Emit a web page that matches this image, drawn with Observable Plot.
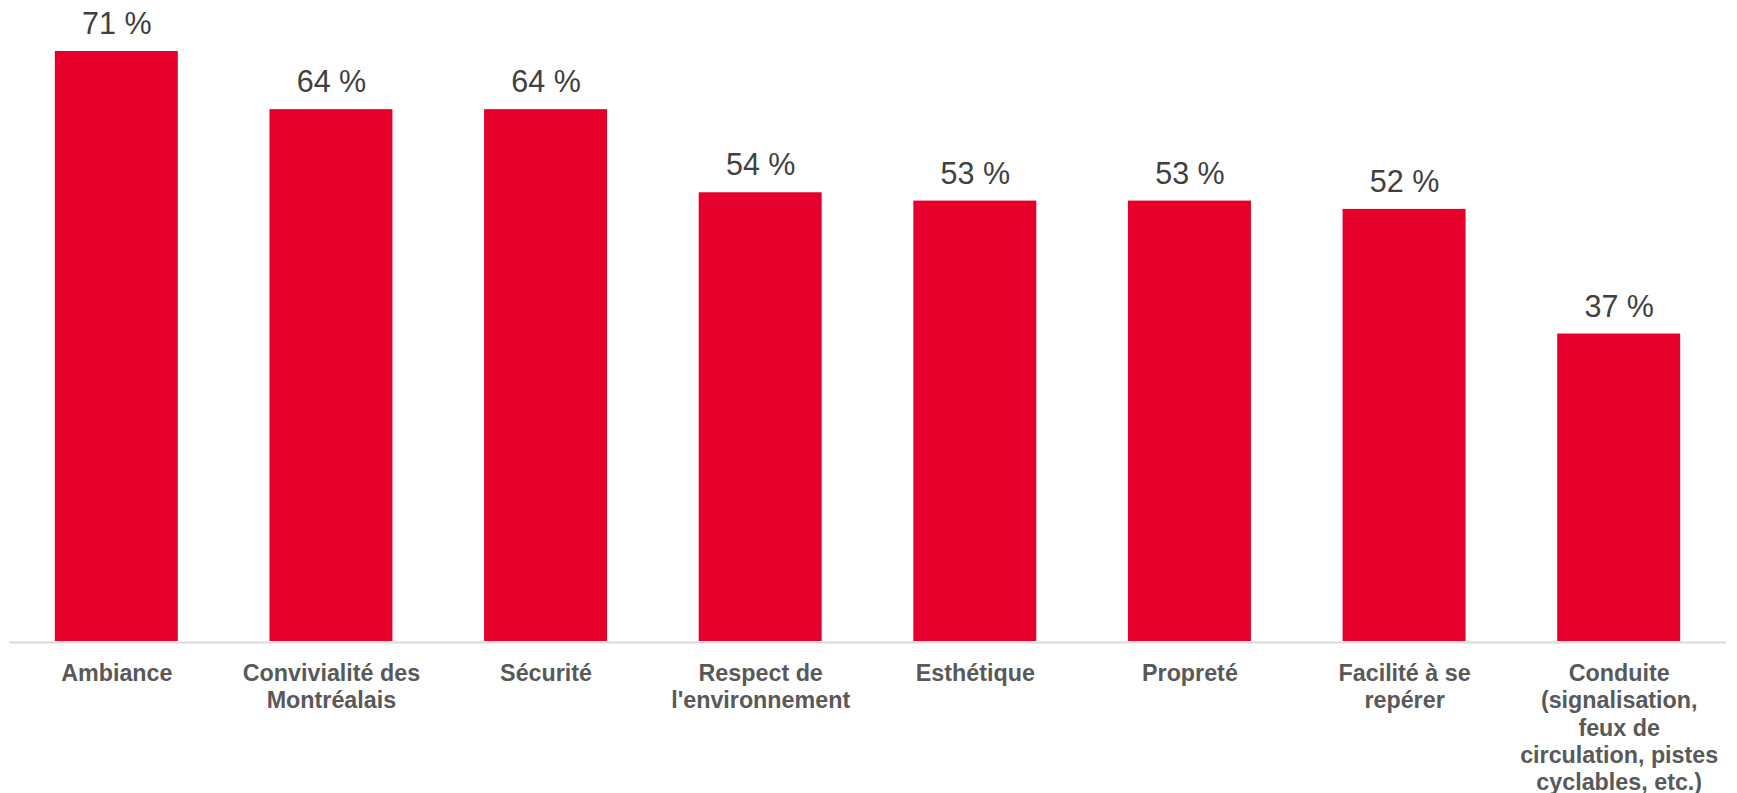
<!DOCTYPE html>
<html>
<head>
<meta charset="utf-8">
<script src="https://cdn.jsdelivr.net/npm/d3@7"></script>
<script src="https://cdn.jsdelivr.net/npm/@observablehq/plot@0.6"></script>
<style>
  html, body { margin: 0; padding: 0; background: #ffffff; }
  #chart svg { display: block; overflow: visible; }
</style>
</head>
<body>
<div id="chart"></div>
<script>
const categories = [
  "Ambiance",
  "Convivialité des\nMontréalais",
  "Sécurité",
  "Respect de\nl'environnement",
  "Esthétique",
  "Propreté",
  "Facilité à se\nrepérer",
  "Conduite\n(signalisation,\nfeux de\ncirculation, pistes\ncyclables, etc.)"
];
const values = [71, 64, 64, 54, 53, 53, 52, 37];

const data = categories.map((c, i) => ({category: c, value: values[i]}));

const chart = Plot.plot({
  width: 1737,
  height: 793,
  marginLeft: 9,
  marginRight: 11,
  marginTop: 51,
  marginBottom: 152,
  style: {fontFamily: "'Liberation Sans', Arial, sans-serif", background: "#ffffff"},
  x: {domain: categories, paddingInner: 0.427, paddingOuter: 0.2135, round: false, axis: null},
  y: {domain: [0, 71], axis: null},
  marks: [
    Plot.barY(data, {x: "category", y: "value", fill: "#E4002B"}),
    Plot.ruleY([0], {stroke: "#d9d9d9", strokeWidth: 2, dy: 1}),
    Plot.text(data, {
      x: "category", y: "value",
      text: d => `${d.value} %`,
      lineAnchor: "bottom", dy: -17.5,
      fontSize: 30.5, fill: "#404040"
    }),
    Plot.text(data, {
      x: "category",
      frameAnchor: "bottom",
      text: "category",
      lineAnchor: "top", dy: 19.5,
      lineHeight: 1.18,
      fontSize: 23.3, fontWeight: "bold", fill: "#595959"
    })
  ]
});
document.getElementById("chart").appendChild(chart);
</script>
</body>
</html>
